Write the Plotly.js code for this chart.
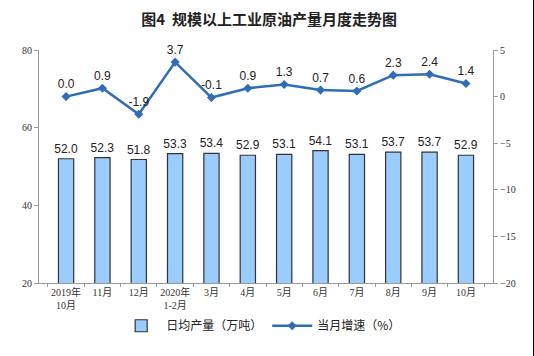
<!DOCTYPE html>
<html>
<head>
<meta charset="utf-8">
<script src="https://cdn.plot.ly/plotly-3.0.1.min.js"></script>
<style>
html,body{margin:0;padding:0;background:#fff;}
#chart{width:533px;height:356px;border-right:1px solid #000;}
</style>
</head>
<body>
<div id="chart"></div>
<script>
const categories = ['2019年<br>10月','11月','12月','2020年<br>1-2月','3月','4月','5月','6月','7月','8月','9月','10月'];
const dailyOutput = [52.0, 52.3, 51.8, 53.3, 53.4, 52.9, 53.1, 54.1, 53.1, 53.7, 53.7, 52.9];
const monthlyGrowth = [0.0, 0.9, -1.9, 3.7, -0.1, 0.9, 1.3, 0.7, 0.6, 2.3, 2.4, 1.4];
const barName = '日均产量（万吨）';
const lineName = '当月增速（%）';

const labelFont = {family: 'Liberation Sans, Arial, sans-serif', size: 12, color: '#222'};
const tickFont = {family: 'Liberation Serif, Times New Roman, Noto Sans CJK SC, serif', size: 10, color: '#333'};

const traces = [
  {
    type: 'bar', name: barName, x: categories, y: dailyOutput,
    marker: {color: '#99CCFF', line: {color: '#333333', width: 1.2}},
    width: 0.42,
    texttemplate: '%{y:.1f}', textposition: 'outside', textfont: labelFont, outsidetextfont: labelFont,
    constraintext: 'none', cliponaxis: false, yaxis: 'y'
  },
  {
    type: 'scatter', mode: 'lines+markers+text', name: lineName, x: categories, y: monthlyGrowth,
    line: {color: '#2E6DBA', width: 2.5},
    marker: {symbol: 'diamond', size: 7, color: '#2E6DBA'},
    texttemplate: '%{y:.1f}', textposition: 'top center', textfont: labelFont,
    cliponaxis: false, yaxis: 'y2'
  }
];

const layout = {
  width: 533, height: 356,
  margin: {l: 39, r: 40, t: 50, b: 73},
  paper_bgcolor: '#fff', plot_bgcolor: '#fff',
  title: {text: '图4  规模以上工业原油产量月度走势图', x: 0.505, xanchor: 'center', y: 0.945, yanchor: 'middle',
          font: {family: 'Noto Sans CJK SC, sans-serif', size: 15, color: '#222', weight: 'bold'}},
  showlegend: true,
  legend: {orientation: 'h', x: 0.49, xanchor: 'center', xref: 'container', y: 0.085, yanchor: 'middle', yref: 'container',
           font: {family: 'Noto Sans CJK SC, sans-serif', size: 12, color: '#222'}, itemwidth: 40, tracegroupgap: 0},
  xaxis: {type: 'category', showgrid: false, showline: true, linecolor: '#999', linewidth: 1, tickangle: 0,
          ticks: 'outside', tickson: 'boundaries', ticklen: 3, tickcolor: '#999', tickfont: tickFont, automargin: false},
  yaxis: {range: [20, 80], dtick: 20, showgrid: false, showline: true, linecolor: '#999', linewidth: 1,
          ticks: 'outside', ticklen: 4, tickcolor: '#999', tickfont: tickFont, zeroline: false, automargin: false},
  yaxis2: {range: [-20, 5], dtick: 5, overlaying: 'y', side: 'right', showgrid: false, showline: true,
           linecolor: '#999', linewidth: 1, ticks: 'outside', ticklen: 4, tickcolor: '#999', tickfont: tickFont,
           zeroline: false, automargin: false}
};

Plotly.newPlot('chart', traces, layout, {displayModeBar: false, staticPlot: true});
</script>
</body>
</html>
